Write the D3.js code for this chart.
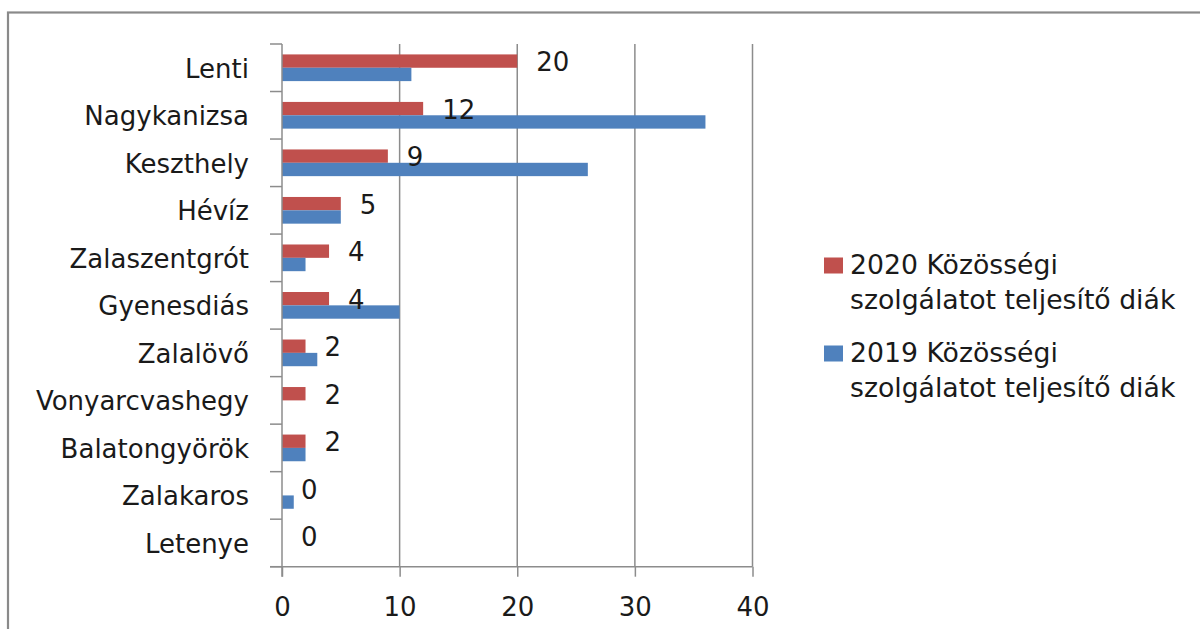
<!DOCTYPE html>
<html>
<head>
<meta charset="utf-8">
<script src="https://cdn.jsdelivr.net/npm/d3@7"></script>
<style>
  body { margin: 0; background: #fff; }
  text { font-family: "DejaVu Sans", sans-serif; fill: #1a1a1a; }
</style>
</head>
<body>
<div id="chart"></div>
<script>
// data
var towns = ["Lenti", "Nagykanizsa", "Keszthely", "Hévíz", "Zalaszentgrót", "Gyenesdiás",
             "Zalalövő", "Vonyarcvashegy", "Balatongyörök", "Zalakaros", "Letenye"];
var values2020 = [20, 12, 9, 5, 4, 4, 2, 2, 2, 0, 0];
var values2019 = [11, 36, 26, 5, 2, 10, 3, 0, 2, 1, 0];
var seriesNames = ["2020", "2019"];
var legendLines = [
  ["2020 Közösségi", "szolgálatot teljesítő diák"],
  ["2019 Közösségi", "szolgálatot teljesítő diák"]
];
var xTicks = [0, 10, 20, 30, 40];
var colors = {"2020": "#C0504D", "2019": "#4F81BD"};

var W = 1200, H = 629;
var fontSize = 26;

var svg = d3.select("#chart").append("svg")
  .attr("width", W).attr("height", H);

// outer frame (runs off the right and bottom edge)
svg.append("rect")
  .attr("x", 8).attr("y", 12.5)
  .attr("width", W + 20).attr("height", H + 20)
  .attr("fill", "none").attr("stroke", "#8a8a8a").attr("stroke-width", 2.2);

// scales
var x = d3.scaleLinear().domain([0, 40]).range([282, 752.5]);
var y = d3.scaleBand().domain(towns).range([44, 566.7]).padding(0);
var sub = d3.scaleBand().domain(seriesNames)
  .range([0, y.bandwidth()]).paddingOuter(0.78).paddingInner(0);

var plotTop = y.range()[0], plotBottom = y.range()[1];

// gridlines
svg.append("g").selectAll("line")
  .data(xTicks.filter(function(d){ return d > 0; }))
  .enter().append("line")
    .attr("x1", function(d){ return x(d); })
    .attr("x2", function(d){ return x(d); })
    .attr("y1", plotTop).attr("y2", plotBottom)
    .attr("stroke", "#8c8c8c").attr("stroke-width", 1.5);

// bars
var rows = towns.map(function(t, i){
  return {town: t, "2020": values2020[i], "2019": values2019[i]};
});
var groups = svg.append("g").selectAll("g")
  .data(rows).enter().append("g")
    .attr("transform", function(d){ return "translate(0," + y(d.town) + ")"; });

groups.selectAll("rect")
  .data(function(d){ return seriesNames.map(function(s){ return {s: s, v: d[s]}; }); })
  .enter().append("rect")
    .attr("x", x(0))
    .attr("y", function(d){ return sub(d.s); })
    .attr("width", function(d){ return x(d.v) - x(0); })
    .attr("height", sub.bandwidth())
    .attr("fill", function(d){ return colors[d.s]; });

// value labels for 2020
groups.append("text")
  .attr("x", function(d){ return x(d["2020"]) + 19; })
  .attr("y", function(d){ return sub("2020") + sub.bandwidth() / 2 + 1; })
  .attr("dominant-baseline", "central")
  .style("font-size", fontSize + "px")
  .text(function(d){ return d["2020"]; });

// y axis line and category ticks
var axisColor = "#8c8c8c";
svg.append("line")
  .attr("x1", x(0)).attr("x2", x(0))
  .attr("y1", plotTop).attr("y2", plotBottom + 10)
  .attr("stroke", axisColor).attr("stroke-width", 1.5);
var bounds = towns.map(function(t){ return y(t); }).concat([plotBottom]);
svg.append("g").selectAll("line")
  .data(bounds).enter().append("line")
    .attr("x1", x(0) - 12).attr("x2", x(0))
    .attr("y1", function(d){ return d; }).attr("y2", function(d){ return d; })
    .attr("stroke", axisColor).attr("stroke-width", 1.5);

// category labels
svg.append("g").selectAll("text")
  .data(towns).enter().append("text")
    .attr("x", 249)
    .attr("y", function(d){ return y(d) + y.bandwidth() / 2 + 1; })
    .attr("text-anchor", "end")
    .attr("dominant-baseline", "central")
    .style("font-size", fontSize + "px")
    .text(function(d){ return d; });

// x axis
var xAxis = svg.append("g")
  .attr("transform", "translate(0," + plotBottom + ")")
  .call(d3.axisBottom(x).tickValues(xTicks).tickSize(10).tickSizeOuter(0));
xAxis.select(".domain").remove();
xAxis.selectAll(".tick line").attr("stroke", axisColor).attr("stroke-width", 1.5);
xAxis.selectAll(".tick text")
  .attr("y", 40).attr("dy", null)
  .attr("dominant-baseline", "central")
  .style("font-size", fontSize + "px")
  .style("font-family", "DejaVu Sans, sans-serif")
  .attr("fill", "#1a1a1a");
svg.append("line")
  .attr("x1", x(0) - 12).attr("x2", x(40))
  .attr("y1", plotBottom).attr("y2", plotBottom)
  .attr("stroke", axisColor).attr("stroke-width", 1.5);

// legend
var legend = svg.append("g").attr("transform", "translate(824,0)");
var legendY = [257.5, 345.5];
seriesNames.forEach(function(s, i){
  var g = legend.append("g").attr("transform", "translate(0," + legendY[i] + ")");
  g.append("rect")
    .attr("width", 19).attr("height", 16)
    .attr("fill", colors[s]);
  g.selectAll("text")
    .data(legendLines[i]).enter().append("text")
      .attr("x", 26)
      .attr("y", function(d, j){ return 16 + j * 35; })
      .style("font-size", "26.7px")
      .text(function(d){ return d; });
});
</script>
</body>
</html>
